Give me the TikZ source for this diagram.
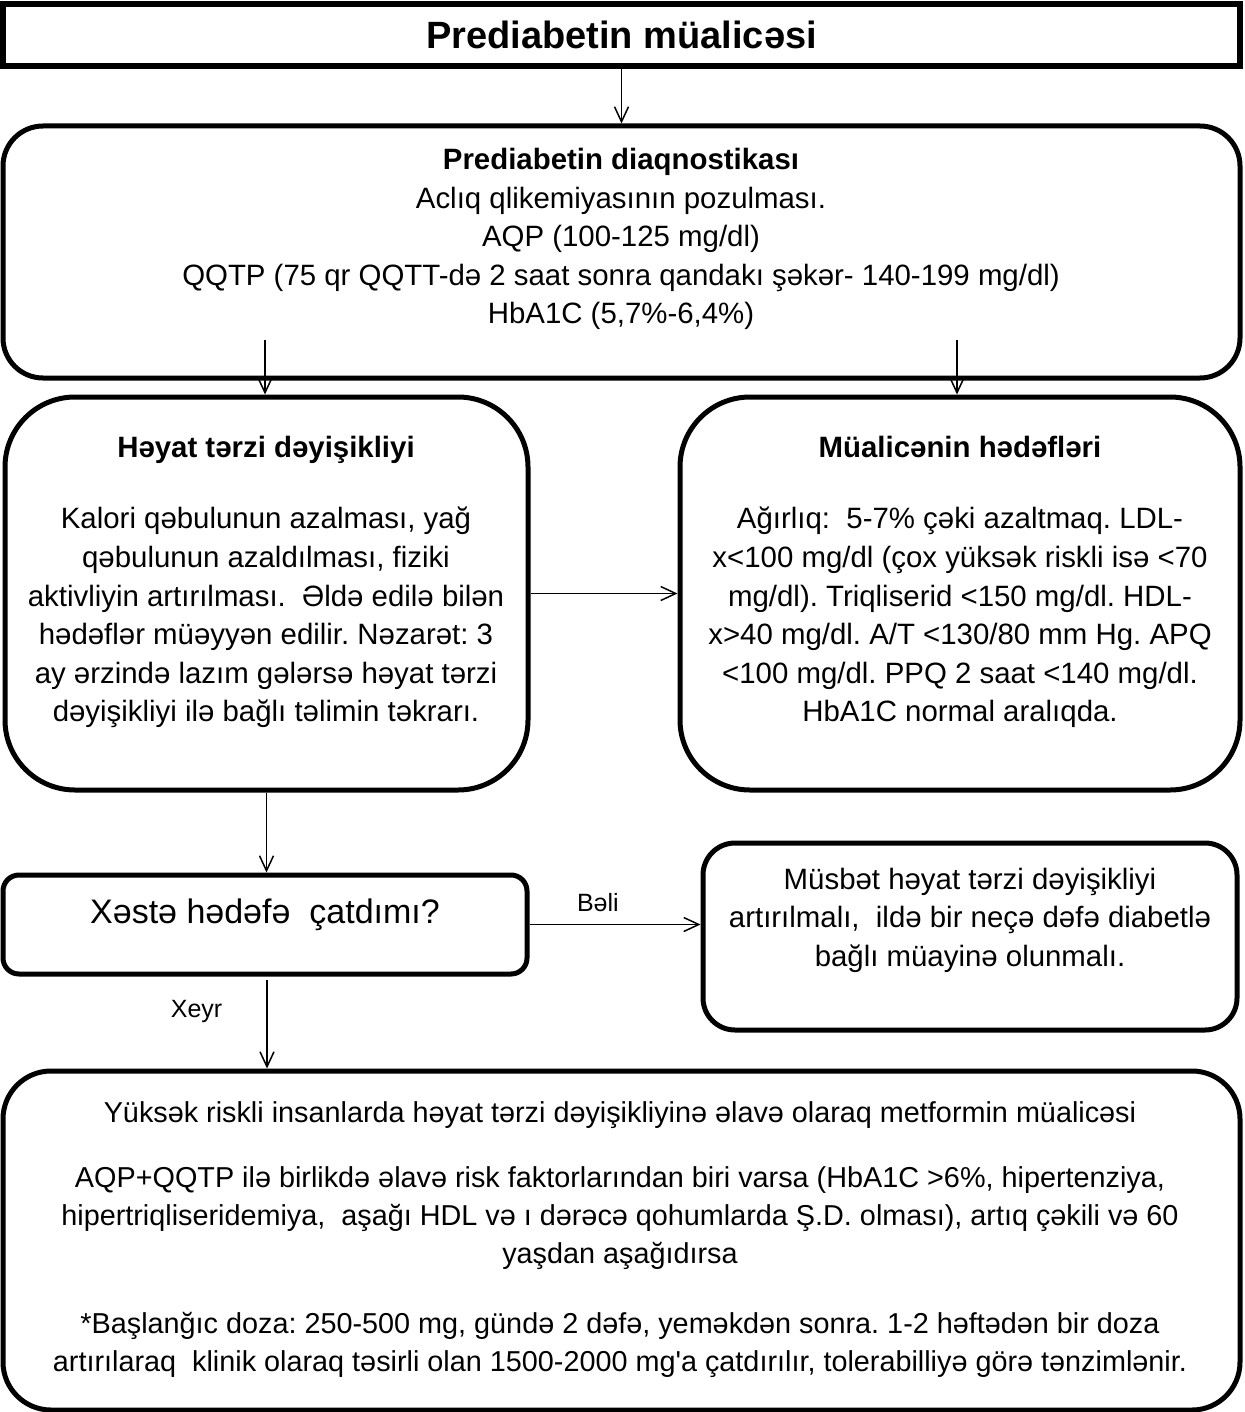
\documentclass[tikz,border=0pt]{standalone}
\usepackage{fontspec}
\setmainfont{Liberation Sans}
\usetikzlibrary{arrows.meta,positioning,calc}
\frenchspacing

\begin{document}
\begin{tikzpicture}[
        x=0.5pt, y=-0.5pt,
        titlebox/.style={draw=black, line width=2.6pt, inner sep=0pt,
            minimum width=618.5pt, minimum height=31pt},
        rbox/.style={draw=black, line width=2.5pt, inner sep=0pt, rounded corners=#1},
        rbox/.default=20pt,
        txt/.style={align=center, inner sep=0pt, font=\fontsize{14.7}{19.3}\selectfont},
        lbl/.style={inner sep=0pt, font=\fontsize{12.5}{15}\selectfont},
        arr/.style={black, line width=0.75pt, -{Straight Barb[length=7.5pt,width=7pt]}},
    ]
    \useasboundingbox (0,0) rectangle (1244,1412);
    % boxes
    \node[titlebox, font=\bfseries\fontsize{19}{23}\selectfont] (title) at (621.5,35) {Prediabetin müalicəsi};
    \node[rbox=20pt, minimum width=618.5pt, minimum height=126pt] (diag) at (621.5,252) {};
    \node[rbox=35pt, minimum width=261.5pt, minimum height=196.5pt] (life) at (266.5,593.5) {};
    \node[rbox=35pt, minimum width=280pt, minimum height=196.5pt] (goals) at (960,593.5) {};
    \node[rbox=8pt, minimum width=262pt, minimum height=49.5pt] (quest) at (265,924.5) {};
    \node[rbox=16pt, minimum width=267pt, minimum height=93.5pt] (pos) at (970,936.5) {};
    \node[rbox=24pt, minimum width=618.5pt, minimum height=169.5pt] (bot) at (621.5,1240.5) {};

    % texts
    \node[txt] (diagtxt) at (621,239) {\textbf{Prediabetin diaqnostikası}\\
        Aclıq qlikemiyasının pozulması.\\
        AQP (100-125 mg/dl)\\
        QQTP (75 qr QQTT-də 2 saat sonra qandakı şəkər- 140-199 mg/dl)\\
        HbA1C (5,7\%-6,4\%)};
    \node[txt] (lifetxt) at (266,582) {\textbf{Həyat tərzi dəyişikliyi}\\[16.5pt]
        Kalori qəbulunun azalması, yağ\\
        qəbulunun azaldılması, fiziki\\
        aktivliyin artırılması.\ \ Əldə edilə bilən\\
        hədəflər müəyyən edilir. Nəzarət: 3\\
        ay ərzində lazım gələrsə həyat tərzi\\
        dəyişikliyi ilə bağlı təlimin təkrarı.};
    \node[txt] (goalstxt) at (960,582) {\textbf{Müalicənin hədəfləri}\\[16.5pt]
        Ağırlıq:\ \ 5-7\% çəki azaltmaq. LDL-\\
        x<100 mg/dl (çox yüksək riskli isə <70\\
        mg/dl). Triqliserid <150 mg/dl. HDL-\\
        x>40 mg/dl. A/T <130/80 mm Hg. APQ\\
        <100 mg/dl. PPQ 2 saat <140 mg/dl.\\
        HbA1C normal aralıqda.};
    \node[txt, font=\fontsize{17}{20}\selectfont] (questtxt) at (265,915) {Xəstə hədəfə\ \ çatdımı?};
    \node[txt] (postxt) at (970,920) {Müsbət həyat tərzi dəyişikliyi\\
        artırılmalı,\ \ ildə bir neçə dəfə diabetlə\\
        bağlı müayinə olunmalı.};
    \node[txt, font=\fontsize{14.4}{19}\selectfont] (bottxt) at (620,1240) {Yüksək riskli insanlarda həyat tərzi dəyişikliyinə əlavə olaraq metformin müalicəsi\\[13.5pt]
        AQP+QQTP ilə birlikdə əlavə risk faktorlarından biri varsa (HbA1C >6\%, hipertenziya,\\
        hipertriqliseridemiya,\ \ aşağı HDL və ı dərəcə qohumlarda Ş.D. olması), artıq çəkili və 60\\
        yaşdan aşağıdırsa\\[16pt]
        *Başlanğıc doza: 250-500 mg, gündə 2 dəfə, yeməkdən sonra. 1-2 həftədən bir doza\\
        artırılaraq\ \ klinik olaraq təsirli olan 1500-2000 mg\textquotesingle a çatdırılır, tolerabilliyə görə tənzimlənir.};

    % arrows
    \coordinate (d1) at (265,340);
    \coordinate (d2) at (957,340);
    \coordinate (q1) at (267,980);
    \draw[arr] (title) -- (diag);
    \draw[arr] (d1) -- (d1 |- life.north);
    \draw[arr] (d2) -- (d2 |- goals.north);
    \draw[arr] (life) -- (goals);
    \draw[arr] (life.south) -- (life.south |- quest.north);
    \draw[arr] (quest.east) -- (quest.east -| pos.west)
        node[lbl, pos=0.4, above=6pt] (yes) {Bəli};
    \draw[arr] (q1) -- (q1 |- bot.north)
        node[lbl, pos=0.36, left=22pt] (no) {Xeyr};
\end{tikzpicture}
\end{document}
